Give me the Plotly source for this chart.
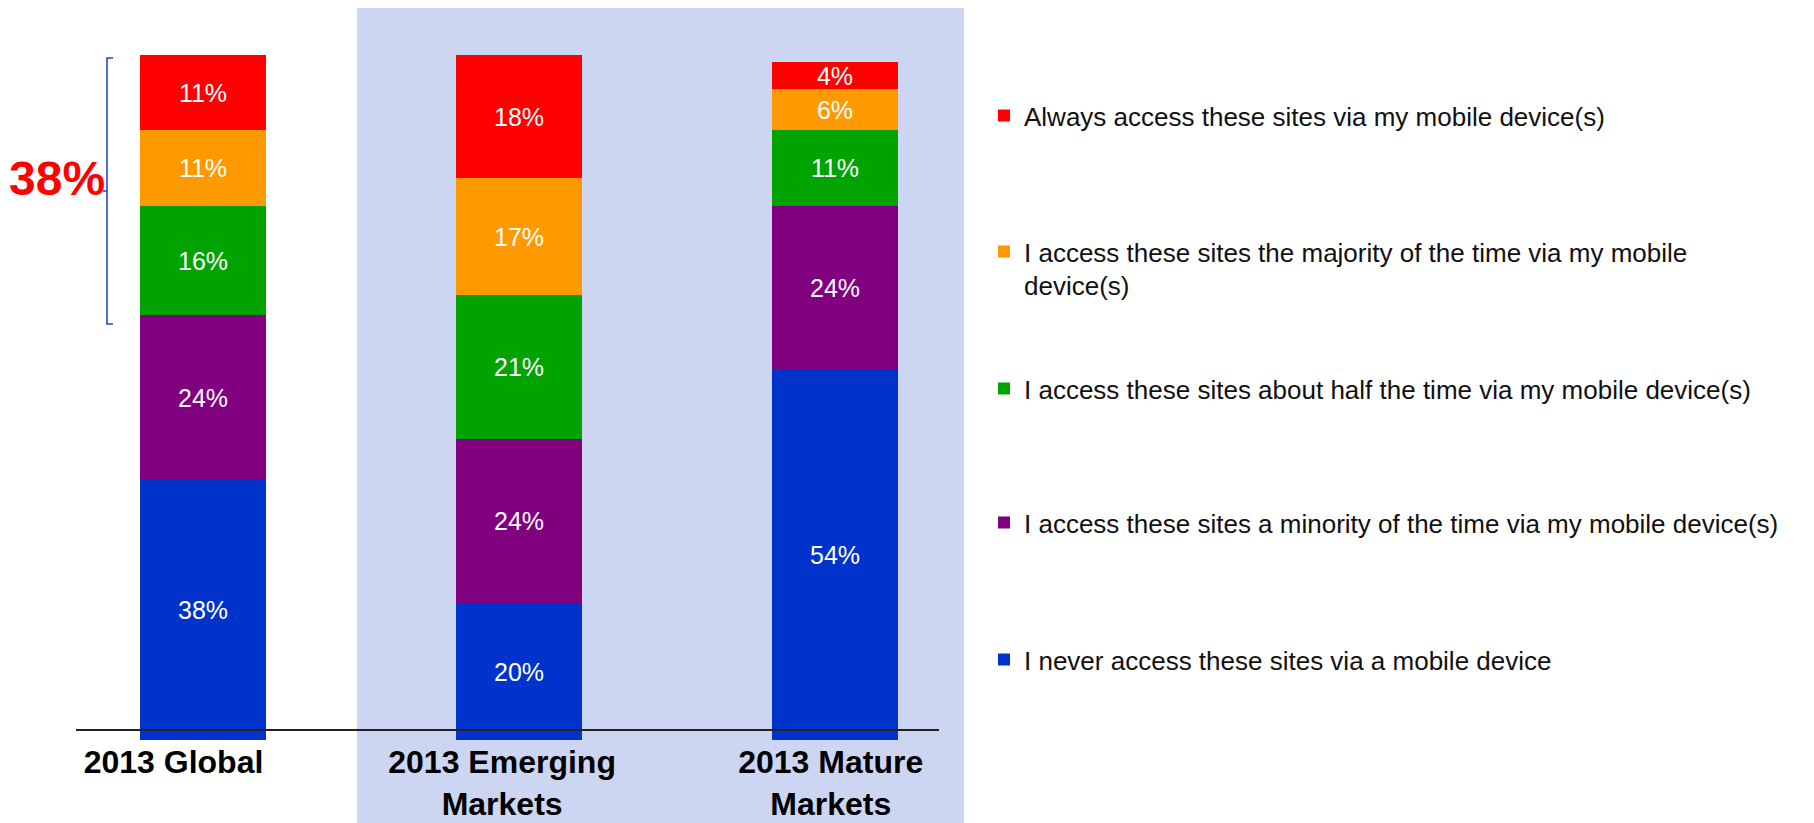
import plotly.graph_objects as go

# Survey shares (%) for each market group, stacked bottom to top
categories = ["2013 Global", "2013 Emerging Markets", "2013 Mature Markets"]
tick_labels = ["<b>2013 Global</b>", "<b>2013 Emerging<br>Markets</b>", "<b>2013 Mature<br>Markets</b>"]

never = [38, 20, 54]
minority = [24, 24, 24]
half = [16, 21, 11]
majority = [11, 17, 6]
always = [11, 18, 4]

series_names = [
    "I never access these sites via a mobile device",
    "I access these sites a minority of the time via my mobile device(s)",
    "I access these sites about half the time via my mobile device(s)",
    "I access these sites the majority of the time via my mobile<br>device(s)",
    "Always access these sites via my mobile device(s)",
]
series_values = [never, minority, half, majority, always]
series_colors = ["#0033CC", "#800080", "#00A300", "#FF9900", "#FF0000"]

bracket_total = "38%"

FONT = "Arial, Liberation Sans, sans-serif"

# Plot-area geometry in pixels
W, H = 1814, 823
L, R, T, B = 45, 993, 8, 740


def px_x(x):
    return (x - L) / (R - L)


def px_y(y):
    return (B - y) / (B - T)


fig = go.Figure()

# each series gets its own legend box so the rows can be spaced freely
legend_rows = [659, 522, 388, 251, 115]   # symbol centre, px from top
legend_font = 26

for i, (name, vals, col) in enumerate(zip(series_names, series_values, series_colors)):
    fig.add_trace(go.Bar(
        x=categories,
        y=vals,
        name=name,
        marker=dict(color=col, line=dict(width=0)),
        text=[f"{v}%" for v in vals],
        textposition="inside",
        insidetextanchor="middle",
        textfont=dict(family=FONT, size=25, color="white"),
        constraintext="none",
        legend=f"legend{i + 2}",
        hoverinfo="skip",
    ))

# companion axis carrying the category labels (spaced a little wider than the bars)
fig.add_trace(go.Scatter(
    x=categories, y=[None] * len(categories), xaxis="x2", yaxis="y",
    mode="markers", showlegend=False, hoverinfo="skip",
))

legend_layout = {}
for i, row in enumerate(legend_rows):
    legend_layout[f"legend{i + 2}"] = dict(
        x=px_x(984), xanchor="left",
        y=px_y(row - (6 + legend_font * 1.3 / 2)), yanchor="top",
        valign="top",
        bgcolor="rgba(0,0,0,0)",
        borderwidth=0,
        font=dict(family=FONT, size=legend_font, color="#111111"),
    )

# y axis spans from the bar base up to the top of the shaded band
y_top = 100 + (55 - T) / ((B - 55) / 100)

# label axis: first label centred at x=173px, spacing 328px
label_step = 328.6
label_first = 173.5
label_range = [-(label_first - L) / label_step, (R - label_first) / label_step]

shapes = [
    # shaded panel behind the two market groups
    dict(type="rect", xref="paper", yref="paper",
         x0=px_x(357), x1=px_x(964), y0=px_y(823), y1=px_y(T),
         fillcolor="#CCD6F3", line=dict(width=0), layer="below"),
    # baseline rule
    dict(type="line", xref="paper", yref="paper",
         x0=px_x(76), x1=px_x(939), y0=px_y(730), y1=px_y(730),
         line=dict(color="#222222", width=2), layer="above"),
    # bracket grouping the top three segments of the global bar
    dict(type="path", xref="paper", yref="paper",
         path=(f"M {px_x(113)},{px_y(58)} L {px_x(107)},{px_y(58)} "
               f"L {px_x(107)},{px_y(324)} L {px_x(113)},{px_y(324)} "
               f"M {px_x(103)},{px_y(191)} L {px_x(107)},{px_y(191)}"),
         line=dict(color="#2447D0", width=1.6), layer="above"),
]

annotations = [
    dict(xref="paper", yref="paper", x=px_x(57), y=px_y(178),
         text=f"<b>{bracket_total}</b>", showarrow=False,
         font=dict(family=FONT, size=48, color="#FF0000"),
         xanchor="center", yanchor="middle"),
]

fig.update_layout(
    width=W, height=H,
    margin=dict(l=L, r=W - R, t=T, b=H - B, pad=0, autoexpand=False),
    barmode="stack",
    bargap=0.6,
    showlegend=True,
    plot_bgcolor="rgba(0,0,0,0)",
    paper_bgcolor="white",
    shapes=shapes,
    annotations=annotations,
    uniformtext=dict(minsize=25, mode="show"),
    xaxis=dict(
        type="category", categoryarray=categories,
        showticklabels=False,
        showgrid=False, zeroline=False, showline=False, ticks="",
        range=[-0.5, 2.5], automargin=False,
    ),
    xaxis2=dict(
        type="category", categoryarray=categories,
        overlaying="x", side="bottom", anchor="y",
        tickmode="array", tickvals=categories, ticktext=tick_labels,
        tickfont=dict(family=FONT, size=32, color="black"),
        showgrid=False, zeroline=False, showline=False, ticks="",
        range=label_range, automargin=False,
    ),
    yaxis=dict(visible=False, range=[0, y_top], fixedrange=True, automargin=False),
    **legend_layout,
)

fig.write_html("out.html")
